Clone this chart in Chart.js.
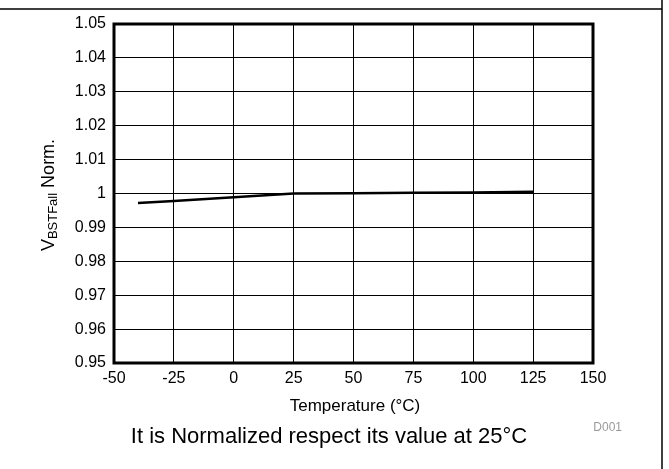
<!DOCTYPE html>
<html>
<head>
<meta charset="utf-8">
<script src="https://cdn.jsdelivr.net/npm/chart.js@4/dist/chart.umd.min.js"></script>
<style>
  html, body { margin: 0; padding: 0; background: #fff; }
  #wrap { width: 669px; height: 469px; position: relative; }
</style>
</head>
<body>
<div id="wrap"><canvas id="chart"></canvas></div>
<script>
// Data
const temperatures = [-40, -25, 0, 25, 50, 75, 100, 125];
const vbstFallNorm = [0.9972, 0.9978, 0.9989, 1.0, 1.0001, 1.0002, 1.0003, 1.0005];
const xTicks = [-50, -25, 0, 25, 50, 75, 100, 125, 150];
const yTicks = [0.95, 0.96, 0.97, 0.98, 0.99, 1, 1.01, 1.02, 1.03, 1.04, 1.05];

const FONT = 'Liberation Sans, Arial, sans-serif';

// frame, thick plot border, rotated y title with subscript, footer texts
const decorations = {
    id: 'decorations',
    afterDraw(chart) {
        const ctx = chart.ctx;
        const a = chart.chartArea;
        ctx.save();

        // page frame lines
        ctx.strokeStyle = '#000';
        ctx.lineWidth = 1.5;
        ctx.beginPath();
        ctx.moveTo(0, 9);
        ctx.lineTo(662, 9);
        ctx.moveTo(662, 0);
        ctx.lineTo(662, 469);
        ctx.stroke();

        // plot border
        ctx.lineWidth = 3;
        ctx.strokeRect(a.left, a.top, a.right - a.left, a.bottom - a.top);

        // y axis title: V_BSTFall Norm.
        ctx.translate(49, 195);
        ctx.rotate(-Math.PI / 2);
        ctx.fillStyle = '#000';
        ctx.textBaseline = 'middle';
        const big = '18px ' + FONT, small = '13px ' + FONT;
        ctx.font = big;
        const wV = ctx.measureText('V').width;
        const wN = ctx.measureText(' Norm.').width;
        ctx.font = small;
        const wS = ctx.measureText('BSTFall').width;
        let x = -(wV + wS + wN) / 2;
        ctx.font = big;
        ctx.textAlign = 'left';
        ctx.fillText('V', x, 0);
        x += wV;
        ctx.font = small;
        ctx.fillText('BSTFall', x, 4);
        x += wS;
        ctx.font = big;
        ctx.fillText(' Norm.', x, 0);
        ctx.restore();

        ctx.save();
        ctx.fillStyle = '#000';
        ctx.textAlign = 'center';
        ctx.textBaseline = 'middle';
        ctx.font = '17px ' + FONT;
        ctx.fillText('Temperature (\u00B0C)', 355, 406);
        ctx.font = '22px ' + FONT;
        ctx.fillText('It is Normalized respect its value at 25\u00B0C', 329, 437);
        ctx.fillStyle = '#9a9a9a';
        ctx.font = '12px ' + FONT;
        ctx.textAlign = 'right';
        ctx.fillText('D001', 622, 428);
        ctx.restore();
    }
};

new Chart(document.getElementById('chart'), {
    type: 'line',
    data: {
        datasets: [{
            data: temperatures.map((t, i) => ({ x: t, y: vbstFallNorm[i] })),
            borderColor: '#000',
            borderWidth: 2.5,
            pointRadius: 0,
            tension: 0,
            fill: false
        }]
    },
    options: {
        responsive: true,
        maintainAspectRatio: false,
        animation: false,
        layout: { padding: { left: 0, top: 24, right: 76, bottom: 0 } },
        plugins: {
            legend: { display: false },
            tooltip: { enabled: false }
        },
        scales: {
            x: {
                type: 'linear',
                min: -50,
                max: 150,
                afterBuildTicks: s => { s.ticks = xTicks.map(v => ({ value: v })); },
                afterFit: s => { s.height = 106; },
                grid: { color: '#000', lineWidth: 1, drawTicks: false },
                border: { display: false },
                ticks: {
                    color: '#000',
                    font: { family: FONT, size: 16 },
                    padding: 6,
                    maxRotation: 0
                }
            },
            y: {
                type: 'linear',
                min: 0.95,
                max: 1.05,
                afterBuildTicks: s => { s.ticks = yTicks.map(v => ({ value: v })); },
                afterFit: s => { s.width = 114; },
                grid: { color: '#000', lineWidth: 1, drawTicks: false },
                border: { display: false },
                ticks: {
                    color: '#000',
                    font: { family: FONT, size: 16 },
                    padding: 8,
                    callback: v => String(Math.round(v * 100) / 100)
                }
            }
        }
    },
    plugins: [decorations]
});
</script>
</body>
</html>
